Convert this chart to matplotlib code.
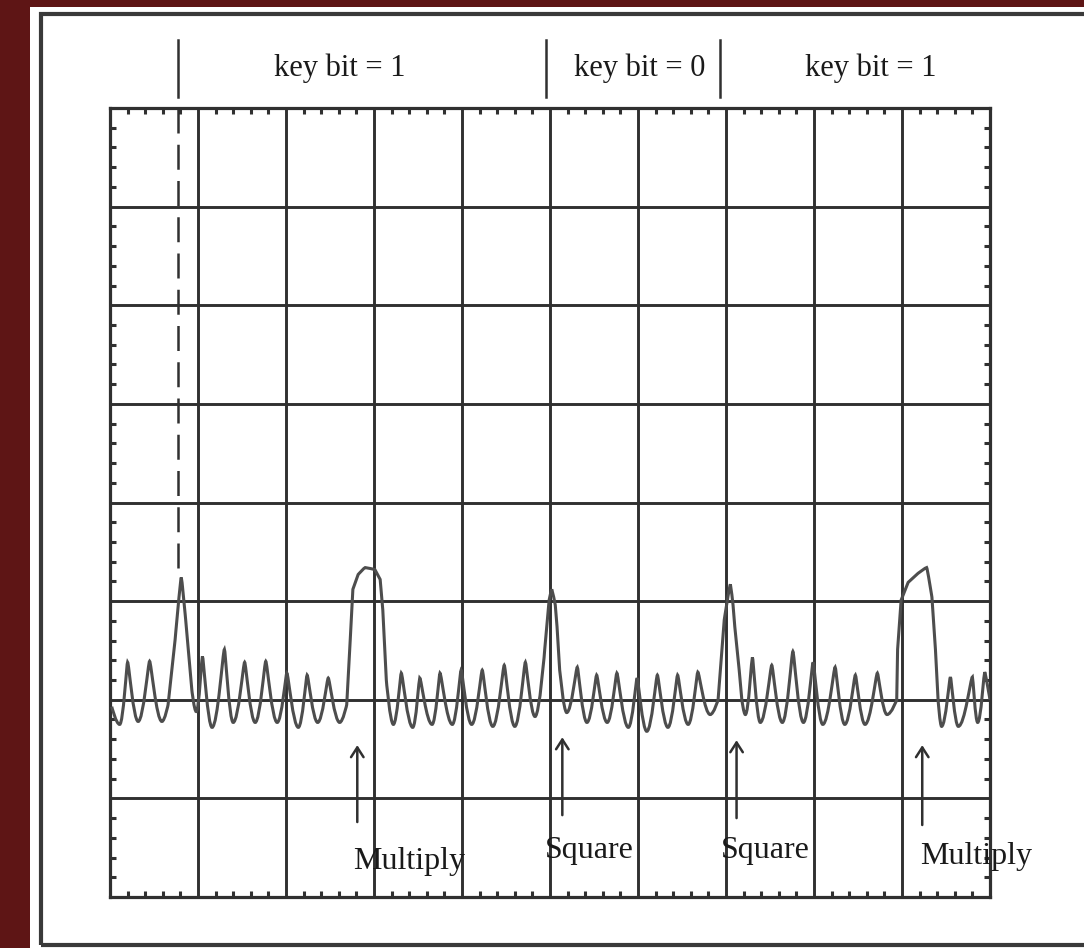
import matplotlib
matplotlib.use("Agg")
from matplotlib import pyplot as plt
from matplotlib.path import Path
from matplotlib.patches import PathPatch, Rectangle
from matplotlib.ticker import MultipleLocator

# scope trace, in divisions
# x: 0..10 across the screen, y: 0 = the reference line the trace sits on
trace_x = [0.02, 0.11, 0.20, 0.32, 0.45, 0.59,
           0.66, 0.74, 0.81, 0.86, 0.93, 0.98,
           1.05, 1.16, 1.30, 1.40, 1.53, 1.65, 1.77, 1.90, 2.01, 2.14,
           2.24, 2.36, 2.48, 2.61,
           2.69, 2.73, 2.76, 2.82, 2.90, 3.01, 3.07, 3.10, 3.14,
           3.22, 3.31, 3.44, 3.52, 3.66, 3.75, 3.89, 3.99, 4.11, 4.23,
           4.35, 4.48, 4.60, 4.72, 4.83,
           4.94, 4.99, 5.02, 5.06, 5.08, 5.11, 5.15,
           5.19, 5.31, 5.42, 5.53, 5.65, 5.76, 5.89, 5.99, 6.10, 6.22,
           6.34, 6.45, 6.57, 6.68, 6.82,
           6.91, 6.98, 7.05, 7.08, 7.10, 7.15, 7.18,
           7.22, 7.30, 7.39, 7.52, 7.64, 7.76, 7.88, 7.99, 8.10, 8.24,
           8.35, 8.47, 8.58, 8.72, 8.83,
           8.94, 8.95, 8.99, 9.07, 9.18, 9.28, 9.34, 9.38, 9.41,
           9.45, 9.55, 9.64, 9.80, 9.86, 9.94, 10.0]
trace_y = [-0.07, -0.25, 0.38, -0.22, 0.39, -0.22,
           -0.05, 0.61, 1.24, 0.81, 0.10, -0.12,
           0.44, -0.28, 0.51, -0.23, 0.38, -0.23, 0.39, -0.23, 0.27, -0.28,
           0.25, -0.23, 0.22, -0.23,
           -0.05, 0.61, 1.12, 1.27, 1.34, 1.32, 1.22, 0.91, 0.20,
           -0.25, 0.27, -0.28, 0.22, -0.25, 0.27, -0.25, 0.30, -0.25, 0.30,
           -0.27, 0.35, -0.27, 0.38, -0.17,
           0.51, 1.01, 1.12, 0.96, 0.74, 0.30, 0.0,
           -0.13, 0.33, -0.23, 0.25, -0.23, 0.27, -0.28, 0.22, -0.32, 0.25,
           -0.28, 0.25, -0.25, 0.28, -0.15,
           0.0, 0.81, 1.17, 0.96, 0.74, 0.30, 0.0,
           -0.15, 0.43, -0.23, 0.35, -0.23, 0.49, -0.23, 0.38, -0.25, 0.33,
           -0.25, 0.25, -0.25, 0.27, -0.15,
           0.0, 0.51, 1.01, 1.19, 1.28, 1.34, 1.04, 0.51, 0.0,
           -0.27, 0.23, -0.27, 0.23, -0.23, 0.28, 0.0]

# key bit boundaries and labels above the screen
bit_edges = [0.77, 4.95, 6.93]
bit_labels = ["key bit = 1", "key bit = 0", "key bit = 1"]
bit_label_x = [2.61, 6.02, 8.65]

# operations marked under the trace
op_labels = ["Multiply", "Square", "Square", "Multiply"]
op_x = [2.81, 5.14, 7.12, 9.23]
op_arrow_top = [-0.46, -0.38, -0.41, -0.46]
op_arrow_bottom = [-1.24, -1.17, -1.20, -1.27]
op_label_x = [3.40, 5.45, 7.45, 9.84]
op_label_y = [-1.72, -1.60, -1.60, -1.67]

ink = "#303030"
serif = ["Liberation Serif", "DejaVu Serif"]


def trace_path(xs, ys):
    # narrow rounded tips, wide rounded bottoms like the scope trace
    n = len(xs)

    def pull(i, dx):
        if 0 < i < n - 1 and ys[i] < ys[i - 1] and ys[i] < ys[i + 1]:
            return 0.45 * dx
        if 0 < i < n - 1 and ys[i] > ys[i - 1] and ys[i] > ys[i + 1]:
            return 0.12 * dx
        return 0.0

    verts = [(xs[0], ys[0])]
    codes = [Path.MOVETO]
    for i in range(n - 1):
        dx = xs[i + 1] - xs[i]
        verts += [(xs[i] + pull(i, dx), ys[i]),
                  (xs[i + 1] - pull(i + 1, dx), ys[i + 1]),
                  (xs[i + 1], ys[i + 1])]
        codes += [Path.CURVE4] * 3
    return Path(verts, codes)


fig = plt.figure(figsize=(10.84, 9.48), dpi=100)
fig.patch.set_facecolor("#5e1515")

# white card with its dark frame, kept behind the axes
W, H = 1084.0, 948.0
fig.patches.append(Rectangle((30 / W, 0), 1.1, (H - 7) / H, transform=fig.transFigure,
                             facecolor="white", edgecolor="none", zorder=-10))
fig.patches.append(Rectangle((41 / W, 3 / H), 1.1, (H - 17) / H, transform=fig.transFigure,
                             facecolor="none", edgecolor="#3a3a3a", lw=3, zorder=-9))

ax = fig.add_axes([110 / W, (H - 897) / H, 880 / W, 789 / H])
ax.set_zorder(5)
ax.set_xlim(0, 10)
ax.set_ylim(-2, 6)
ax.set_facecolor("white")

ax.xaxis.set_major_locator(MultipleLocator(1))
ax.yaxis.set_major_locator(MultipleLocator(1))
ax.xaxis.set_minor_locator(MultipleLocator(0.2))
ax.yaxis.set_minor_locator(MultipleLocator(0.2))
ax.grid(which="major", color=ink, lw=2.1)
ax.tick_params(which="major", length=0, labelbottom=False, labelleft=False)
ax.tick_params(which="minor", direction="in", length=4, width=2.2, color=ink,
               top=True, right=True, bottom=True, left=True)
for s in ax.spines.values():
    s.set_color(ink)
    s.set_linewidth(2.3)

ax.add_patch(PathPatch(trace_path(trace_x, trace_y), facecolor="none",
                       edgecolor="#4d4d4d", lw=2.2, zorder=3))

# bit boundaries: dashed into the screen for the first one, ticks above it
ax.plot([bit_edges[0], bit_edges[0]], [6, 1.3], color=ink, lw=1.8,
        dashes=(10, 4.5), zorder=3)
for xe in bit_edges:
    ax.plot([xe, xe], [6.11, 6.69], color=ink, lw=1.8, clip_on=False)
for lbl, xl in zip(bit_labels, bit_label_x):
    ax.text(xl, 6.40, lbl, ha="center", va="center", fontsize=22,
            family=serif, color="#1a1a1a")

for lbl, xo, yt, yb, xl, yl in zip(op_labels, op_x, op_arrow_top, op_arrow_bottom,
                                   op_label_x, op_label_y):
    ax.annotate("", xy=(xo, yt), xytext=(xo, yb),
                arrowprops=dict(arrowstyle="->,head_length=0.7,head_width=0.45",
                                color=ink, lw=1.8, shrinkA=0, shrinkB=0))
    ax.text(xl, yl, lbl, ha="center", va="baseline", fontsize=23,
            family=serif, color="#1a1a1a", clip_on=False)

plt.savefig("out.png", dpi=100, facecolor=fig.get_facecolor())
